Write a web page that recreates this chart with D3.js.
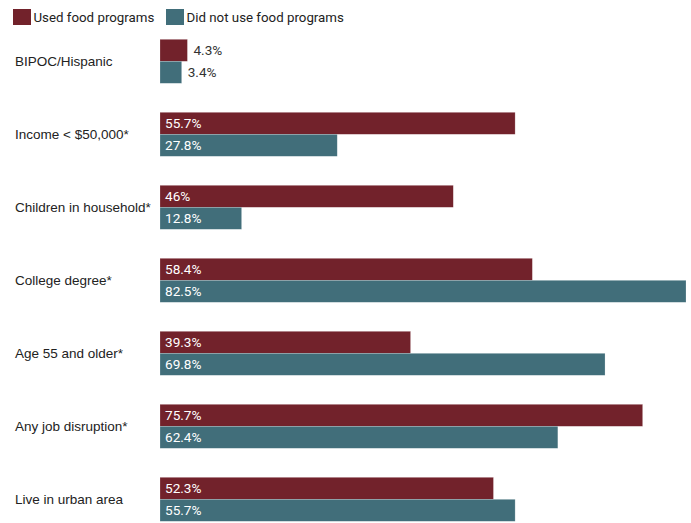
<!DOCTYPE html>
<html>
<head>
<meta charset="utf-8">
<script src="https://cdn.jsdelivr.net/npm/d3@7"></script>
<style>
  html, body { margin: 0; padding: 0; background: #fff; }
  svg { display: block; font-family: Roboto, "Noto Sans", sans-serif; }
  .cat { font-family: "Liberation Sans", Arial, Helvetica, sans-serif; }
</style>
</head>
<body>
<svg id="chart" width="691" height="523"></svg>
<script>
// Share of respondents with each characteristic, by food program use
const categories = [
  "BIPOC/Hispanic",
  "Income < $50,000*",
  "Children in household*",
  "College degree*",
  "Age 55 and older*",
  "Any job disruption*",
  "Live in urban area"
];
const usedPrograms = [4.3, 55.7, 46, 58.4, 39.3, 75.7, 52.3];
const didNotUse = [3.4, 27.8, 12.8, 82.5, 69.8, 62.4, 55.7];
const seriesNames = ["Used food programs", "Did not use food programs"];
const seriesColors = ["#72222b", "#416e7a"];

const svg = d3.select("#chart");
const plotLeft = 160, plotRight = 686;
const plotTop = 39.3, groupStep = 73, barH = 22;

const series = [usedPrograms, didNotUse];
const maxVal = d3.max(series.flat());

const x = d3.scaleLinear().domain([0, maxVal]).range([plotLeft, plotRight]);
const y = d3.scaleBand()
  .domain(categories)
  .range([plotTop, plotTop + groupStep * categories.length])
  .paddingInner(0).paddingOuter(0);
const ySub = d3.scaleBand().domain([0, 1]).range([0, barH * 2]);

// Legend
const legend = svg.append("g");
const legendX = [13, 166];
seriesNames.forEach((name, i) => {
  const g = legend.append("g").attr("transform", `translate(${legendX[i]},9)`);
  g.append("rect").attr("width", 18).attr("height", 16).attr("fill", seriesColors[i]);
  g.append("text").attr("x", 20.5).attr("y", 12.5)
    .attr("font-size", 13.3).attr("fill", "#222").text(name);
});

// Groups
const groups = svg.selectAll("g.group")
  .data(categories)
  .join("g")
  .attr("class", "group")
  .attr("transform", d => `translate(0,${y(d)})`);

groups.append("text")
  .attr("class", "cat")
  .attr("x", 15)
  .attr("y", barH)
  .attr("dy", "0.37em")
  .attr("font-size", 13.5)
  .attr("fill", "#222")
  .text(d => d);

series.forEach((vals, si) => {
  groups.append("rect")
    .attr("x", x(0))
    .attr("y", ySub(si))
    .attr("width", (d, i) => x(vals[i]) - x(0))
    .attr("height", ySub.bandwidth())
    .attr("fill", seriesColors[si])
    .attr("stroke", "rgba(255,255,255,0.35)")
    .attr("stroke-width", 0.6);

  groups.append("text")
    .attr("y", ySub(si) + ySub.bandwidth() / 2)
    .attr("dy", "0.36em")
    .attr("font-size", 13.6)
    .each(function (d, i) {
      const v = vals[i];
      const inside = x(v) - x(0) > 45;
      d3.select(this)
        .attr("x", inside ? x(0) + 5 : x(v) + 6)
        .attr("fill", inside ? "#fff" : "#333")
        .text(v + "%");
    });
});
</script>
</body>
</html>
